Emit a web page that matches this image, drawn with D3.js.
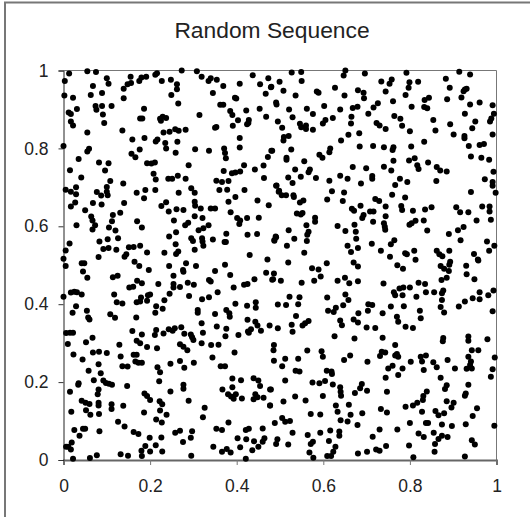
<!DOCTYPE html>
<html>
<head>
<meta charset="utf-8">
<script src="https://cdn.jsdelivr.net/npm/d3@7/dist/d3.min.js"></script>
<style>
  body { margin: 0; background: #fff; }
  text { font-family: "Liberation Sans", Arial, sans-serif; fill: #222; }
</style>
</head>
<body>
<svg id="chart" width="530" height="517"></svg>
<script>
const title = "Random Sequence";
const tickValues = [0, 0.2, 0.4, 0.6, 0.8, 1];

// points, one list per quadrant of the plot
const upperLeft = [[.013,.992],[.055,.998],[.075,.996],[.216,.993],[.212,.989],[.273,1],[.308,.998],[.319,.984],[.1,.98],[.104,.966],[.003,.973],[.155,.984],[.191,.984],[.18,.982],[.175,.973],[.156,.968],[.148,.965],[.139,.953],[.227,.973],[.248,.976],[.262,.965],[.262,.952],[.335,.973],[.34,.98],[.354,.976],[.369,.96],[.407,.966],[.437,.988],[.454,.965],[.473,.98],[.479,.957],[.467,.94],[.068,.96],[.063,.937],[.089,.942],[.002,.936],[.022,.93],[.139,.929],[.249,.937],[.345,.942],[.396,.93],[.399,.928],[.265,.915],[.362,.912],[.369,.912],[.491,.918],[.453,.902],[.422,.897],[.074,.909],[.089,.909],[.076,.899],[.111,.909],[.186,.902],[.031,.901],[.012,.892],[.017,.888],[.091,.887],[.314,.886],[.385,.896],[.39,.886],[.177,.877],[.182,.877],[.223,.876],[.229,.881],[.237,.878],[.225,.871],[.468,.881],[.403,.872],[.428,.873],[.424,.862],[.427,.865],[.017,.869],[.022,.859],[.094,.865],[.391,.858],[.35,.853],[.353,.855],[.136,.846],[.055,.841],[.231,.841],[.245,.843],[.258,.849],[.266,.845],[.282,.848],[.407,.827],[.159,.823],[.187,.827],[.217,.823],[.213,.818],[.235,.814],[.263,.817],[.237,.8],[0,.806],[.407,.802],[.176,.797],[.059,.799],[.055,.792],[.304,.798],[.336,.794],[.371,.8],[.373,.788],[.375,.775],[.259,.789],[.157,.786],[.166,.777],[.48,.794],[.472,.778],[.035,.773],[.082,.764],[.104,.762],[.096,.743],[.193,.762],[.203,.761],[.211,.764],[.289,.757],[.417,.757],[.462,.756],[.015,.744],[.37,.742],[.389,.736],[.397,.738],[.408,.741],[.442,.746],[.208,.735],[.041,.725],[.213,.72],[.242,.722],[.251,.722],[.264,.73],[.282,.722],[.463,.724],[.108,.716],[.138,.71],[.353,.717],[.366,.714],[.381,.716],[.491,.704],[.1,.701],[.005,.694],[.017,.689],[.029,.7],[.029,.682],[.077,.688],[.087,.679],[.1,.689],[.102,.68],[.169,.686],[.189,.693],[.186,.672],[.212,.693],[.266,.686],[.295,.698],[.303,.686],[.36,.693],[.378,.694],[.418,.693],[.497,.689],[.397,.675],[.381,.663],[.448,.666],[.14,.66],[.068,.66],[.088,.656],[.027,.661],[.017,.651],[.05,.641],[.237,.662],[.226,.652],[.243,.638],[.261,.644],[.277,.642],[.303,.663],[.304,.653],[.317,.646],[.34,.646],[.35,.646],[.474,.654],[.131,.635],[.114,.629],[.064,.625],[.067,.615],[.073,.603],[.067,.592],[.17,.613],[.181,.597],[.255,.615],[.303,.626],[.321,.621],[.386,.636],[.401,.621],[.424,.621],[.408,.615],[.406,.606],[.451,.622],[.03,.603],[.112,.613],[.105,.597],[.12,.589],[.281,.603],[.288,.609],[.335,.603],[.323,.595],[.312,.59],[.26,.585],[.244,.574],[.376,.581],[.425,.578],[.447,.58],[.491,.572],[.487,.565],[.126,.569],[.083,.561],[.102,.567],[.014,.556],[.295,.569],[.299,.562],[.32,.569],[.321,.561],[.323,.55],[.345,.566],[.375,.56],[.372,.56],[.259,.554],[.092,.542],[.104,.544],[.122,.54],[.151,.546],[.162,.547],[.177,.55],[.005,.538],[.303,.54],[.265,.535],[.26,.529],[.145,.528],[.141,.522],[.193,.533],[.233,.532],[.43,.526],[.081,.521],[0,.517],[.471,.515]];

const lowerLeft = [[.005,.498],[.042,.505],[.048,.505],[.045,.484],[.055,.468],[.164,.509],[.175,.498],[.197,.488],[.244,.498],[.283,.505],[.306,.498],[.276,.488],[.277,.483],[.373,.501],[.35,.485],[.385,.475],[.254,.473],[.336,.462],[.34,.458],[.114,.469],[.125,.473],[.468,.481],[.441,.464],[.484,.464],[.417,.45],[.425,.452],[.17,.46],[.181,.454],[.219,.452],[.152,.443],[.161,.445],[.287,.455],[.301,.45],[.254,.452],[.254,.443],[.269,.444],[.393,.443],[.017,.43],[.025,.432],[.031,.431],[.042,.425],[0,.419],[.117,.425],[.356,.431],[.245,.427],[.29,.421],[.336,.418],[.32,.413],[.2,.425],[.195,.423],[.179,.417],[.169,.405],[.193,.409],[.177,.407],[.233,.41],[.123,.405],[.136,.402],[.397,.401],[.424,.396],[.444,.405],[.444,.391],[.214,.395],[.029,.395],[.229,.388],[.212,.378],[.31,.385],[.31,.378],[.054,.383],[.021,.378],[.376,.385],[.383,.377],[.384,.368],[.35,.375],[.108,.374],[.119,.365],[.057,.366],[.06,.361],[.168,.366],[.425,.36],[.443,.355],[.448,.345],[.319,.351],[.354,.343],[.376,.337],[.476,.345],[.456,.332],[.433,.336],[.428,.327],[.426,.33],[.159,.331],[.214,.334],[.211,.321],[.243,.336],[.257,.338],[.252,.332],[.272,.341],[.231,.325],[.322,.327],[.279,.324],[.294,.322],[.3,.308],[.297,.315],[.006,.326],[.015,.327],[.022,.327],[.374,.318],[.404,.321],[.181,.322],[.067,.314],[.169,.306],[.177,.3],[.052,.302],[.01,.298],[.129,.296],[.193,.29],[.216,.287],[.269,.297],[.277,.291],[.286,.282],[.319,.3],[.341,.295],[.358,.296],[.068,.276],[.082,.278],[.1,.275],[.395,.276],[.023,.271],[.162,.27],[.169,.27],[.132,.266],[.344,.263],[.044,.258],[.166,.253],[.173,.25],[.181,.25],[.269,.254],[.247,.247],[.301,.25],[.081,.246],[.136,.241],[.148,.24],[.279,.237],[.217,.238],[.223,.225],[.363,.241],[.373,.241],[.058,.229],[.086,.223],[.221,.202],[.07,.205],[.092,.204],[.098,.198],[.105,.196],[.112,.193],[.035,.197],[.034,.193],[.39,.209],[.41,.205],[.439,.21],[.45,.204],[.454,.19],[.147,.19],[.277,.193],[.277,.183],[.081,.181],[.015,.175],[.079,.169],[.247,.176],[.367,.181],[.39,.187],[.477,.181],[.187,.171],[.193,.164],[.2,.154],[.38,.169],[.387,.163],[.398,.169],[.393,.157],[.412,.158],[.443,.169],[.439,.156],[.448,.161],[.462,.16],[.042,.152],[.051,.147],[.06,.144],[.081,.147],[.081,.14],[.222,.151],[.228,.143],[.289,.152],[.111,.143],[.111,.131],[.138,.139],[.477,.14],[.052,.128],[.223,.127],[.326,.134],[.018,.124],[.062,.116],[.082,.118],[.186,.122],[.238,.116],[.322,.11],[.214,.104],[.227,.096],[.126,.098],[.381,.096],[.141,.086],[.025,.077],[.045,.08],[.05,.08],[.353,.08],[.366,.077],[.083,.074],[.46,.081],[.421,.077],[.428,.08],[.269,.075],[.258,.07],[.297,.074],[.162,.072],[.173,.067],[.037,.062],[.199,.057],[.226,.058],[.294,.057],[.402,.056],[.422,.053],[.464,.056],[.44,.048],[.46,.047],[.276,.046],[.019,.045],[.006,.034],[.011,.034],[.017,.027],[.189,.036],[.213,.038],[.346,.034],[.408,.033],[.45,.034],[.18,.024],[.2,.022],[.228,.022],[.366,.021],[.377,.028],[.386,.019],[.436,.025],[.132,.015],[.149,.011],[.181,.01],[.077,.012],[.061,.005],[.022,.003],[.295,.011],[.421,.003]];

const upperRight = [[.527,.995],[.549,.996],[.55,.973],[.651,1],[.647,.987],[.696,.992],[.792,.994],[.914,.997],[.939,.99],[.734,.972],[.758,.977],[.753,.966],[.799,.97],[.797,.956],[.819,.971],[.883,.979],[.892,.956],[.927,.951],[.931,.953],[.924,.947],[.48,.958],[.499,.971],[.508,.948],[.536,.936],[.585,.946],[.589,.943],[.627,.956],[.68,.949],[.693,.943],[.694,.929],[.744,.946],[.649,.936],[.79,.937],[.844,.93],[.834,.924],[.886,.926],[.919,.931],[.761,.921],[.961,.918],[.939,.913],[.991,.911],[.492,.913],[.602,.909],[.726,.916],[.716,.905],[.804,.907],[.833,.906],[.84,.903],[.668,.904],[.679,.907],[.562,.902],[.521,.9],[.639,.9],[.576,.888],[.704,.889],[.927,.889],[.994,.889],[.529,.88],[.665,.881],[.622,.878],[.764,.883],[.778,.876],[.988,.877],[.985,.869],[.605,.873],[.599,.864],[.854,.873],[.951,.869],[.495,.869],[.664,.864],[.723,.865],[.73,.859],[.546,.863],[.549,.854],[.56,.859],[.56,.85],[.576,.848],[.893,.862],[.782,.858],[.505,.853],[.744,.85],[.944,.852],[.8,.844],[.859,.846],[.683,.839],[.658,.835],[.901,.836],[.926,.832],[.926,.826],[.991,.836],[.52,.832],[.509,.829],[.508,.82],[.641,.82],[.833,.817],[.961,.809],[.971,.811],[.936,.806],[.684,.805],[.715,.806],[.74,.803],[.762,.803],[.76,.796],[.803,.805],[.616,.8],[.614,.79],[.482,.794],[.526,.797],[.591,.784],[.598,.776],[.515,.776],[.515,.771],[.941,.779],[.965,.776],[.983,.771],[.811,.775],[.798,.769],[.762,.768],[.556,.767],[.817,.757],[.82,.747],[.842,.764],[.862,.752],[.87,.743],[.885,.741],[.668,.752],[.699,.749],[.74,.753],[.757,.743],[.535,.746],[.569,.746],[.566,.739],[.548,.727],[.993,.74],[.639,.73],[.583,.724],[.656,.722],[.713,.729],[.713,.722],[.519,.725],[.529,.711],[.614,.717],[.973,.721],[.991,.714],[.991,.704],[.777,.722],[.794,.714],[.766,.706],[.687,.71],[.861,.716],[.492,.705],[.498,.691],[.504,.68],[.514,.68],[.531,.68],[.532,.675],[.62,.69],[.648,.687],[.941,.688],[.998,.686],[.759,.681],[.609,.669],[.645,.665],[.789,.674],[.72,.67],[.729,.665],[.554,.666],[.546,.661],[.686,.653],[.744,.651],[.78,.652],[.782,.642],[.666,.645],[.671,.64],[.708,.638],[.716,.638],[.693,.629],[.69,.621],[.744,.626],[.807,.64],[.835,.643],[.85,.649],[.907,.649],[.916,.636],[.935,.636],[.967,.651],[.984,.651],[.984,.638],[.539,.633],[.552,.634],[.548,.63],[.581,.622],[.581,.612],[.715,.612],[.987,.617],[.954,.615],[.74,.608],[.742,.599],[.743,.591],[.832,.615],[.813,.614],[.804,.608],[.799,.604],[.672,.604],[.633,.601],[.561,.603],[.566,.586],[.563,.578],[.562,.562],[.651,.588],[.675,.586],[.676,.568],[.52,.59],[.84,.589],[.924,.598],[.911,.59],[.89,.58],[.49,.574],[.487,.563],[.533,.568],[.917,.564],[.764,.564],[.756,.554],[.978,.561],[.516,.55],[.712,.555],[.656,.55],[.68,.544],[.664,.534],[.995,.55],[.983,.537],[.733,.537],[.81,.537],[.789,.531],[.793,.528],[.862,.537],[.891,.537],[.868,.528],[.875,.523],[.556,.532],[.754,.522],[.948,.529],[.957,.515]];

const lowerRight = [[.519,.507],[.608,.505],[.67,.507],[.68,.497],[.771,.5],[.784,.491],[.813,.514],[.893,.509],[.891,.501],[.871,.498],[.879,.491],[.93,.499],[.958,.512],[.574,.492],[.589,.489],[.486,.479],[.482,.463],[.502,.46],[.89,.485],[.885,.468],[.873,.462],[.931,.477],[.949,.464],[.594,.471],[.579,.46],[.55,.455],[.633,.46],[.65,.468],[.66,.454],[.68,.459],[.739,.453],[.82,.455],[.835,.452],[.8,.443],[.785,.443],[.776,.44],[.763,.431],[.766,.423],[.783,.423],[.837,.431],[.856,.431],[.877,.435],[.874,.428],[.874,.411],[.815,.419],[.651,.425],[.658,.411],[.609,.417],[.522,.419],[.545,.418],[.993,.435],[.981,.423],[.961,.431],[.961,.413],[.945,.415],[.927,.407],[.913,.394],[.495,.399],[.514,.398],[.542,.4],[.646,.397],[.629,.391],[.624,.38],[.611,.383],[.704,.4],[.713,.398],[.703,.383],[.756,.394],[.786,.395],[.871,.393],[.879,.379],[.823,.383],[.825,.364],[.991,.382],[.737,.377],[.681,.377],[.537,.37],[.77,.368],[.773,.355],[.67,.361],[.68,.353],[.639,.358],[.643,.346],[.566,.357],[.558,.351],[.552,.345],[.527,.347],[.495,.338],[.529,.329],[.7,.34],[.72,.339],[.79,.342],[.807,.339],[.626,.318],[.672,.312],[.737,.314],[.877,.313],[.876,.305],[.935,.317],[.935,.306],[.979,.31],[.766,.295],[.486,.295],[.485,.282],[.563,.281],[.596,.279],[.599,.265],[.735,.278],[.743,.276],[.731,.267],[.77,.272],[.773,.265],[.766,.268],[.943,.282],[.958,.282],[.662,.268],[.648,.257],[.512,.26],[.542,.26],[.486,.255],[.702,.252],[.837,.268],[.825,.265],[.828,.253],[.802,.252],[.887,.257],[.854,.251],[.862,.238],[.935,.265],[.941,.253],[.939,.244],[.931,.234],[.943,.235],[.996,.263],[.904,.235],[.991,.233],[.832,.231],[.505,.241],[.76,.242],[.75,.235],[.783,.235],[.536,.229],[.545,.227],[.608,.229],[.619,.227],[.62,.221],[.773,.218],[.744,.211],[.987,.214],[.871,.211],[.512,.204],[.575,.199],[.591,.197],[.604,.203],[.622,.194],[.639,.187],[.64,.175],[.641,.165],[.689,.195],[.685,.184],[.673,.172],[.701,.178],[.747,.175],[.935,.193],[.885,.192],[.881,.182],[.929,.171],[.927,.165],[.839,.176],[.831,.164],[.479,.181],[.535,.163],[.599,.164],[.559,.153],[.508,.15],[.477,.14],[.659,.142],[.629,.14],[.633,.124],[.83,.154],[.817,.147],[.807,.14],[.79,.137],[.885,.151],[.901,.147],[.896,.135],[.733,.131],[.747,.122],[.955,.133],[.828,.124],[.859,.126],[.866,.115],[.879,.12],[.571,.118],[.593,.117],[.69,.12],[.663,.116],[.945,.113],[.505,.108],[.512,.098],[.523,.1],[.488,.095],[.64,.102],[.656,.099],[.679,.09],[.8,.095],[.837,.095],[.842,.095],[.874,.091],[.897,.087],[.929,.092],[.995,.088],[.73,.078],[.771,.078],[.529,.07],[.616,.076],[.593,.07],[.564,.064],[.637,.073],[.637,.062],[.82,.068],[.832,.059],[.855,.07],[.714,.06],[.874,.062],[.866,.054],[.858,.041],[.887,.059],[.943,.051],[.95,.04],[.494,.053],[.491,.041],[.519,.04],[.576,.047],[.571,.041],[.613,.049],[.628,.034],[.623,.021],[.609,.01],[.618,.01],[.745,.036],[.798,.037],[.722,.027],[.73,.024],[.68,.017],[.701,.021],[.857,.021],[.568,.019],[.577,.006],[.808,.007],[.927,.009]];

const points = [...upperLeft, ...upperRight, ...lowerLeft, ...lowerRight];

const svg = d3.select("#chart");
const plot = { left: 63.5, right: 496.5, top: 70.5, bottom: 460 };

const x = d3.scaleLinear().domain([0, 1]).range([plot.left, plot.right]);
const y = d3.scaleLinear().domain([0, 1]).range([plot.bottom, plot.top]);

// the chart frame only shows on the top and left, it runs off the picture
svg.append("path")
    .attr("d", "M5,517V2.5H530")
    .attr("fill", "none")
    .attr("stroke", "#777")
    .attr("stroke-width", 2);

// plot border, top and right
svg.append("path")
    .attr("d", `M${plot.left},${plot.top}H${plot.right}V${plot.bottom}`)
    .attr("fill", "none")
    .attr("stroke", "#777")
    .attr("stroke-width", 1);

svg.append("text")
    .attr("x", 272)
    .attr("y", 38)
    .attr("text-anchor", "middle")
    .style("font-size", "22.8px")
    .text(title);

const xAxis = svg.append("g")
    .attr("transform", `translate(0,${plot.bottom})`)
    .call(d3.axisBottom(x).tickValues(tickValues).tickFormat(d => d).tickSize(5).tickPadding(15));

const yAxis = svg.append("g")
    .attr("transform", `translate(${plot.left},0)`)
    .call(d3.axisLeft(y).tickValues(tickValues).tickFormat(d => d).tickSize(5).tickPadding(10));

xAxis.selectAll("text").style("font-size", "17.5px");
yAxis.selectAll("text").style("font-size", "17.5px");
xAxis.select(".domain").attr("stroke", "#666").attr("stroke-width", 2);
xAxis.selectAll("line").attr("stroke", "#777");
yAxis.select(".domain").attr("stroke", "#222");
yAxis.selectAll("line").attr("stroke", "#333");

svg.append("g")
    .selectAll("circle")
    .data(points)
    .join("circle")
    .attr("cx", d => x(d[0]))
    .attr("cy", d => y(d[1]))
    .attr("r", 3)
    .attr("fill", "#000");
</script>
</body>
</html>
